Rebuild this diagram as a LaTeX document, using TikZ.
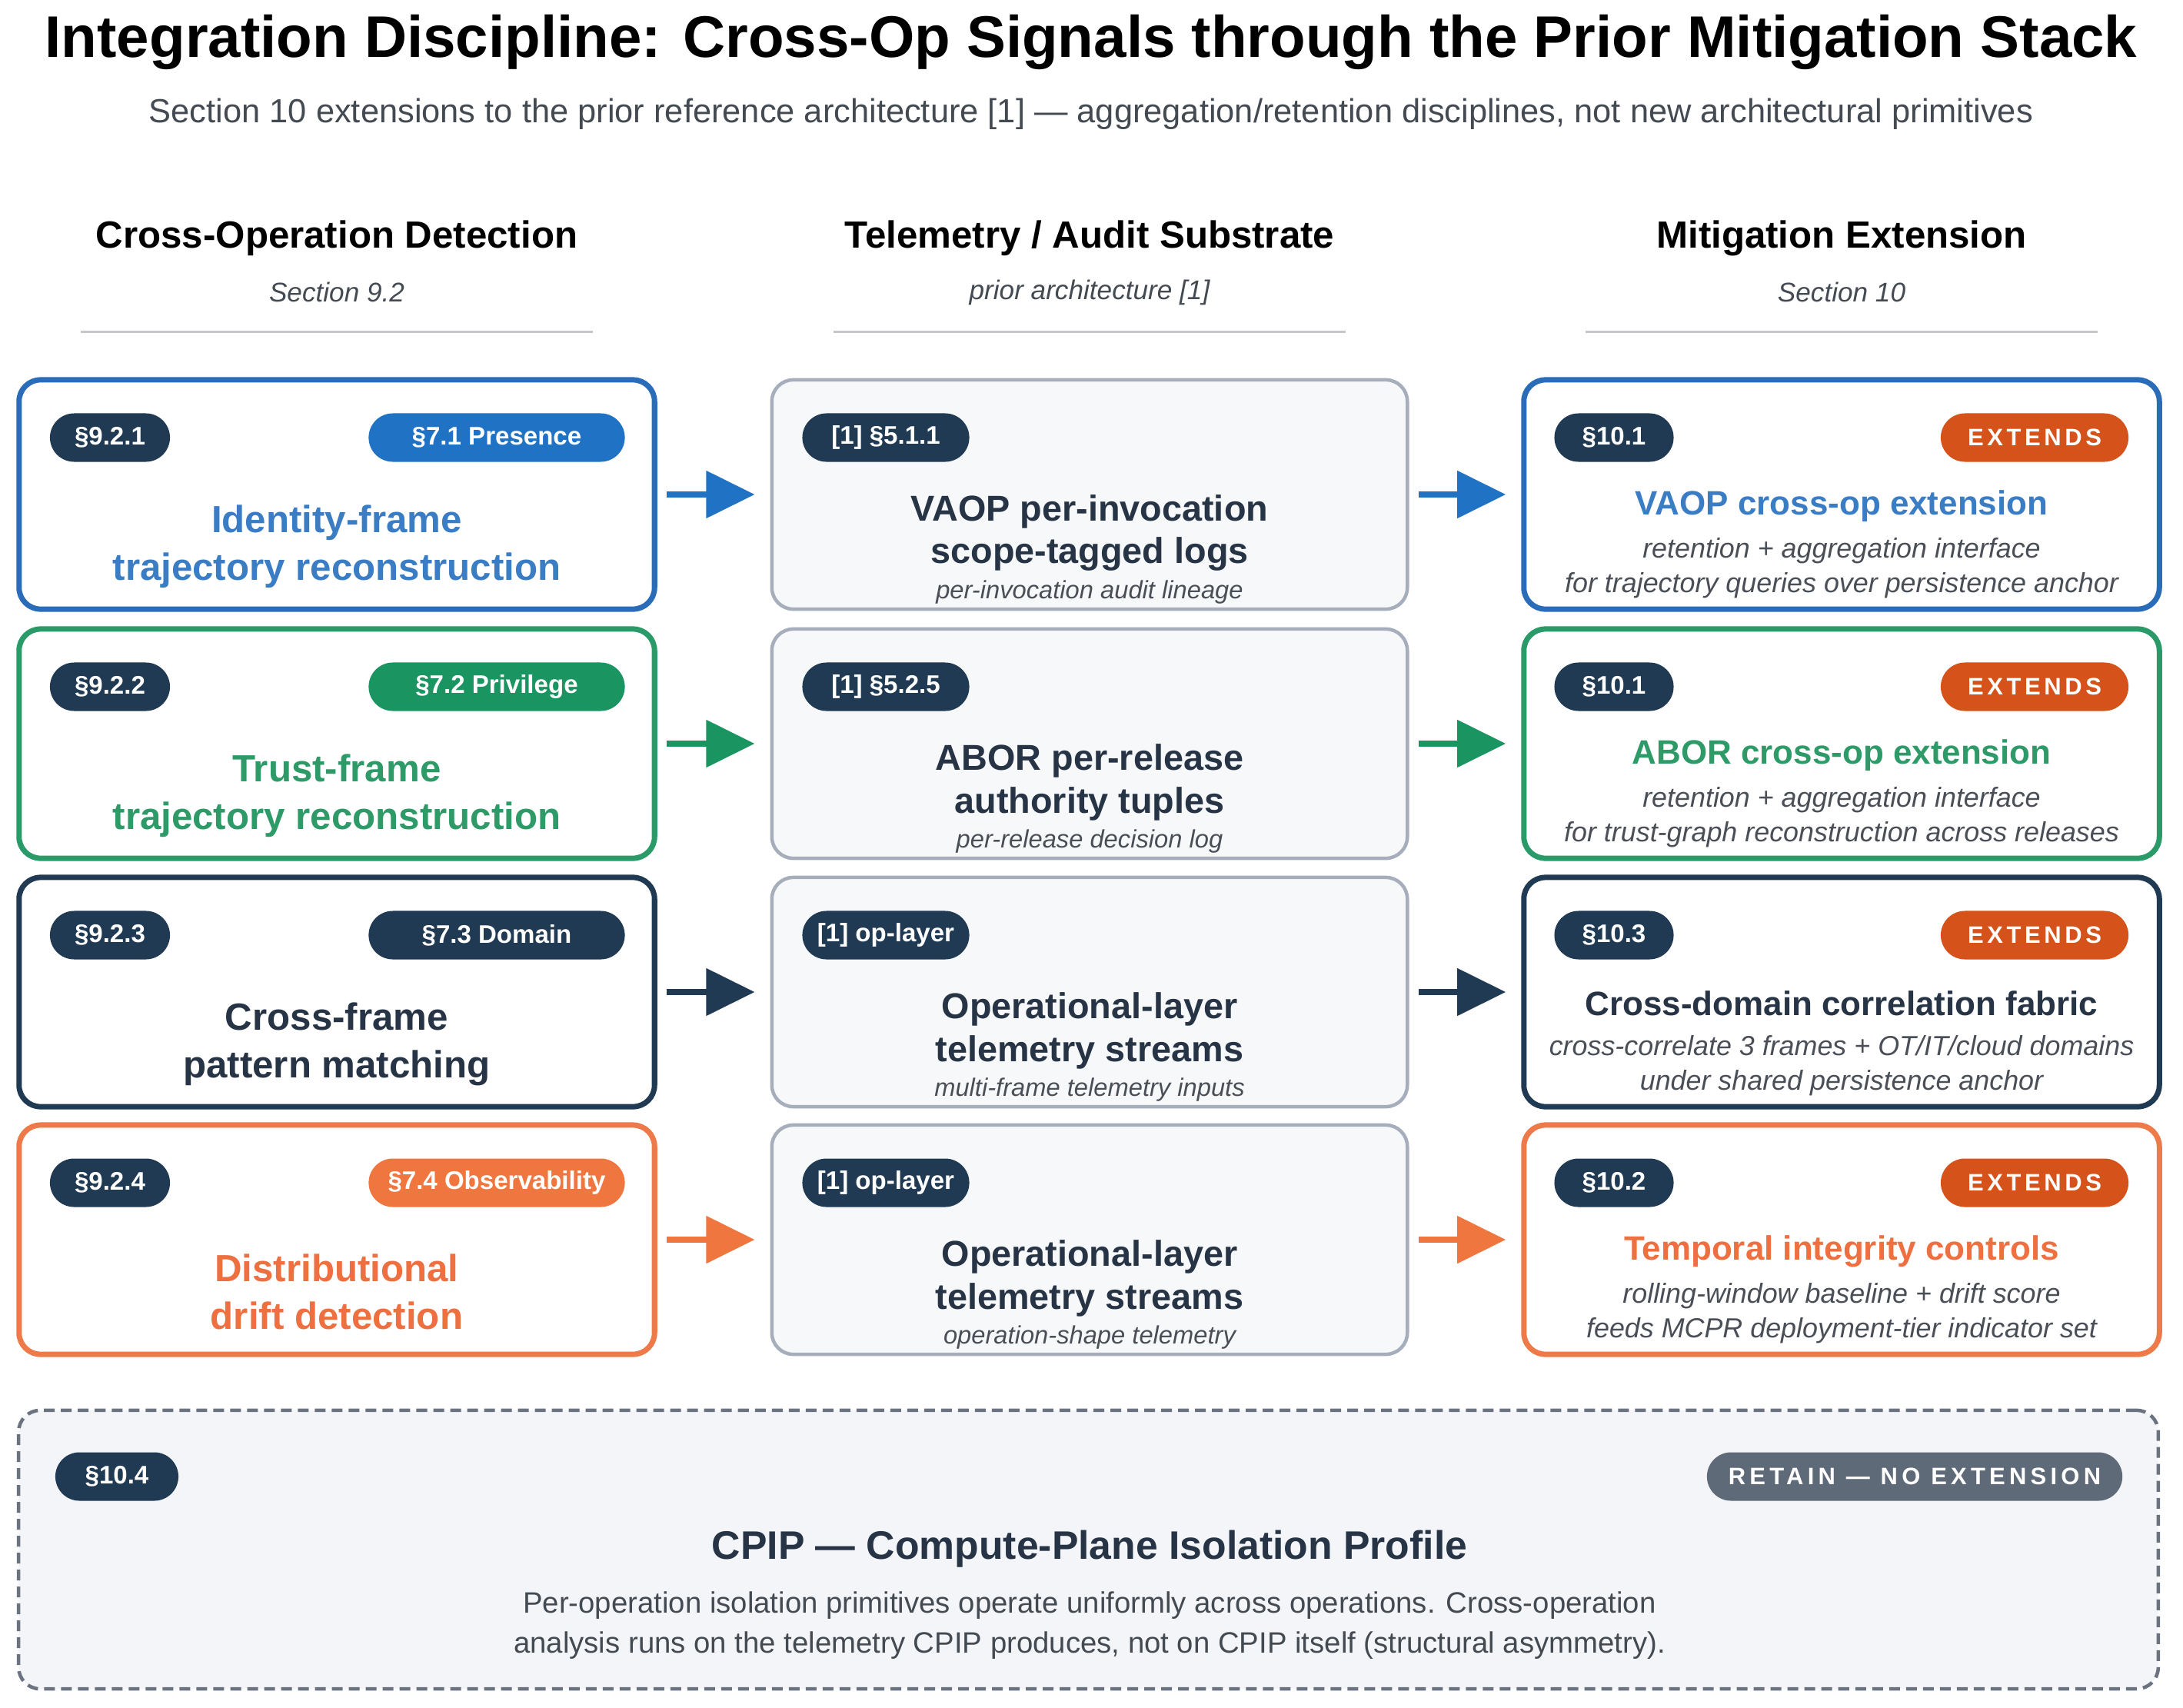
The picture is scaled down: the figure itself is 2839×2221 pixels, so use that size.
\documentclass[tikz,border=0pt]{standalone}
\usepackage{fontspec}
\setmainfont{Liberation Sans}
\usetikzlibrary{arrows.meta,calc}
\definecolor{navy}{HTML}{1F3A52}
\definecolor{navytext}{HTML}{263445}
\definecolor{cblue}{HTML}{1F72C4}
\definecolor{bblue}{HTML}{2B6CB8}
\definecolor{tblue}{HTML}{3A7DC4}
\definecolor{cgreen}{HTML}{1A9460}
\definecolor{bgreen}{HTML}{2A9A68}
\definecolor{tgreen}{HTML}{2E9A68}
\definecolor{corange}{HTML}{F0763F}
\definecolor{borange}{HTML}{EE7A4A}
\definecolor{torange}{HTML}{EE7040}
\definecolor{cext}{HTML}{D5521A}
\definecolor{midgray}{HTML}{A6AEBB}
\definecolor{midfill}{HTML}{F7F8FA}
\definecolor{cretain}{HTML}{5E6A78}
\definecolor{botborder}{HTML}{6B7280}
\definecolor{botfill}{HTML}{F3F5F8}
\definecolor{rulegray}{HTML}{C4C6CA}
\definecolor{subgray}{HTML}{444A52}
\definecolor{itgray}{HTML}{4A4F57}
\newcommand\fTitle{\fontsize{21.7}{25}\selectfont\bfseries}
\newcommand\fSub{\fontsize{12.35}{15}\selectfont}
\newcommand\fHdr{\fontsize{14}{17}\selectfont\bfseries}
\newcommand\fHsub{\fontsize{10}{12}\selectfont\itshape}
\newcommand\fBadge{\fontsize{9.4}{11}\selectfont\bfseries}
\newcommand\fExt{\fontsize{8.8}{10}\selectfont\bfseries\addfontfeature{LetterSpace=15}}
\newcommand\fRet{\fontsize{8.8}{10}\selectfont\bfseries\addfontfeature{LetterSpace=17}}
\newcommand\fLeft{\fontsize{14}{17.6}\selectfont\bfseries}
\newcommand\fMid{\fontsize{13.3}{15.9}\selectfont\bfseries}
\newcommand\fMidIt{\fontsize{9.3}{11}\selectfont\itshape}
\newcommand\fRight{\fontsize{12.5}{15}\selectfont\bfseries}
\newcommand\fRightIt{\fontsize{10.2}{12.8}\selectfont\itshape}
\newcommand\fBotT{\fontsize{14.7}{17}\selectfont\bfseries}
\newcommand\fBotB{\fontsize{10.9}{14.8}\selectfont}
\begin{document}
\begin{tikzpicture}[x=0.01cm,y=-0.01cm,
  card/.style={draw, rounded corners=0.28cm, line width=0.07cm, fill=white,
    minimum width=8.26cm, minimum height=2.98cm, inner sep=0pt},
  midcard/.style={card, draw=midgray, fill=midfill, line width=0.045cm},
  pill/.style={rounded corners=0.315cm, minimum height=0.63cm, inner sep=0pt,
    text=white, font=\fBadge},
  hdr/.style={font=\fHdr, text=black},
  hsub/.style={font=\fHsub, text=subgray},
  ltitle/.style={font=\fLeft, align=center},
  mtitle/.style={font=\fMid, align=center, text=navytext},
  mit/.style={font=\fMidIt, text=itgray},
  rtitle/.style={font=\fRight},
  rit/.style={font=\fRightIt, align=center, text=itgray},
  flow/.style={-{Triangle[length=0.63cm,width=0.6cm]}, line width=0.08cm,
    shorten <=0.12cm, shorten >=0.2cm}
]
\useasboundingbox[fill=white] (0,0) rectangle (2839,2221);

% title
\node[font=\fTitle] (title) at (1419,55) {Integration Discipline: Cross-Op Signals through the Prior Mitigation Stack};
\node[font=\fSub, text=subgray] (subtitle) at (1419,148) {Section 10 extensions to the prior reference architecture [1] — aggregation/retention disciplines, not new architectural primitives};

% column headers
\node[hdr] (h1) at (438,310) {Cross-Operation Detection};
\node[hsub] (h1s) at (438,380) {Section 9.2};
\node[hdr] (h2) at (1417,310) {Telemetry / Audit Substrate};
\node[hsub] (h2s) at (1417,380) {prior architecture [1]};
\node[hdr] (h3) at (2395,310) {Mitigation Extension};
\node[hsub] (h3s) at (2395,380) {Section 10};
\coordinate (r1a) at (105,431); \coordinate (r1b) at (771,431);
\coordinate (r2a) at (1084,431); \coordinate (r2b) at (1750,431);
\coordinate (r3a) at (2062,431); \coordinate (r3b) at (2728,431);
\draw[rulegray, line width=0.03cm] (r1a) -- (r1b);
\draw[rulegray, line width=0.03cm] (r2a) -- (r2b);
\draw[rulegray, line width=0.03cm] (r3a) -- (r3b);

% ---------- Row 1 ----------
\node[card, draw=bblue] (L1) at (438,643) {};
\node[pill, fill=navy, minimum width=1.56cm] (L1a) at (143,569) {§9.2.1};
\node[pill, fill=cblue, minimum width=3.33cm] (L1b) at (646,569) {§7.1 Presence};
\node[ltitle, text=tblue] (L1t) at (438,711) {Identity-frame\\trajectory reconstruction};

\node[midcard] (M1) at (1417,643) {};
\node[pill, fill=navy, minimum width=2.17cm] (M1a) at (1152,569) {[1] §5.1.1};
\node[mtitle] (M1t) at (1417,693) {VAOP per-invocation\\scope-tagged logs};
\node[mit] (M1i) at (1417,770) {per-invocation audit lineage};

\node[card, draw=bblue] (R1) at (2395,643) {};
\node[pill, fill=navy, minimum width=1.55cm] (R1a) at (2099,569) {§10.1};
\node[pill, fill=cext, minimum width=2.44cm, font=\fExt] (R1b) at (2646,569) {EXTENDS};
\node[rtitle, text=tblue] (R1t) at (2395,658) {VAOP cross-op extension};
\node[rit] (R1i) at (2395,739) {retention + aggregation interface\\for trajectory queries over persistence anchor};

\draw[flow, draw=cblue, fill=cblue] (L1) -- (M1);
\draw[flow, draw=cblue, fill=cblue] (M1) -- (R1);

% ---------- Row 2 ----------
\node[card, draw=bgreen] (L2) at (438,967) {};
\node[pill, fill=navy, minimum width=1.56cm] (L2a) at (143,893) {§9.2.2};
\node[pill, fill=cgreen, minimum width=3.33cm] (L2b) at (646,893) {§7.2 Privilege};
\node[ltitle, text=tgreen] (L2t) at (438,1035) {Trust-frame\\trajectory reconstruction};

\node[midcard] (M2) at (1417,967) {};
\node[pill, fill=navy, minimum width=2.17cm] (M2a) at (1152,893) {[1] §5.2.5};
\node[mtitle] (M2t) at (1417,1017) {ABOR per-release\\authority tuples};
\node[mit] (M2i) at (1417,1094) {per-release decision log};

\node[card, draw=bgreen] (R2) at (2395,967) {};
\node[pill, fill=navy, minimum width=1.55cm] (R2a) at (2099,893) {§10.1};
\node[pill, fill=cext, minimum width=2.44cm, font=\fExt] (R2b) at (2646,893) {EXTENDS};
\node[rtitle, text=tgreen] (R2t) at (2395,982) {ABOR cross-op extension};
\node[rit] (R2i) at (2395,1063) {retention + aggregation interface\\for trust-graph reconstruction across releases};

\draw[flow, draw=cgreen, fill=cgreen] (L2) -- (M2);
\draw[flow, draw=cgreen, fill=cgreen] (M2) -- (R2);

% ---------- Row 3 ----------
\node[card, draw=navy] (L3) at (438,1290) {};
\node[pill, fill=navy, minimum width=1.56cm] (L3a) at (143,1216) {§9.2.3};
\node[pill, fill=navy, minimum width=3.33cm] (L3b) at (646,1216) {§7.3 Domain};
\node[ltitle, text=navytext] (L3t) at (438,1358) {Cross-frame\\pattern matching};

\node[midcard] (M3) at (1417,1290) {};
\node[pill, fill=navy, minimum width=2.17cm] (M3a) at (1152,1216) {[1] op-layer};
\node[mtitle] (M3t) at (1417,1340) {Operational-layer\\telemetry streams};
\node[mit] (M3i) at (1417,1417) {multi-frame telemetry inputs};

\node[card, draw=navy] (R3) at (2395,1290) {};
\node[pill, fill=navy, minimum width=1.55cm] (R3a) at (2099,1216) {§10.3};
\node[pill, fill=cext, minimum width=2.44cm, font=\fExt] (R3b) at (2646,1216) {EXTENDS};
\node[rtitle, text=navytext] (R3t) at (2395,1305) {Cross-domain correlation fabric};
\node[rit] (R3i) at (2395,1386) {cross-correlate 3 frames + OT/IT/cloud domains\\under shared persistence anchor};

\draw[flow, draw=navy, fill=navy] (L3) -- (M3);
\draw[flow, draw=navy, fill=navy] (M3) -- (R3);

% ---------- Row 4 ----------
\node[card, draw=borange] (L4) at (438,1612) {};
\node[pill, fill=navy, minimum width=1.56cm] (L4a) at (143,1538) {§9.2.4};
\node[pill, fill=corange, minimum width=3.33cm] (L4b) at (646,1538) {§7.4 Observability};
\node[ltitle, text=torange] (L4t) at (438,1680) {Distributional\\drift detection};

\node[midcard] (M4) at (1417,1612) {};
\node[pill, fill=navy, minimum width=2.17cm] (M4a) at (1152,1538) {[1] op-layer};
\node[mtitle] (M4t) at (1417,1662) {Operational-layer\\telemetry streams};
\node[mit] (M4i) at (1417,1739) {operation-shape telemetry};

\node[card, draw=borange] (R4) at (2395,1612) {};
\node[pill, fill=navy, minimum width=1.55cm] (R4a) at (2099,1538) {§10.2};
\node[pill, fill=cext, minimum width=2.44cm, font=\fExt] (R4b) at (2646,1538) {EXTENDS};
\node[rtitle, text=torange] (R4t) at (2395,1627) {Temporal integrity controls};
\node[rit] (R4i) at (2395,1708) {rolling-window baseline + drift score\\feeds MCPR deployment-tier indicator set};

\draw[flow, draw=corange, fill=corange] (L4) -- (M4);
\draw[flow, draw=corange, fill=corange] (M4) -- (R4);

% ---------- Bottom ----------
\node[draw=botborder, fill=botfill, rounded corners=0.28cm, line width=0.045cm,
  dash pattern=on 0.14cm off 0.08cm, minimum width=27.81cm, minimum height=3.62cm,
  inner sep=0pt] (B) at (1415.5,2015) {};
\node[pill, fill=navy, minimum width=1.6cm] (Ba) at (152,1920) {§10.4};
\node[pill, fill=cretain, minimum width=5.4cm, font=\fRet] (Bb) at (2490,1920) {RETAIN — NO EXTENSION};
\node[font=\fBotT, text=navytext] (Bt) at (1417,2014) {CPIP — Compute-Plane Isolation Profile};
\node[font=\fBotB, align=center, text=subgray] (Bx) at (1417,2114) {Per-operation isolation primitives operate uniformly across operations. Cross-operation\\analysis runs on the telemetry CPIP produces, not on CPIP itself (structural asymmetry).};
\end{tikzpicture}
\end{document}
